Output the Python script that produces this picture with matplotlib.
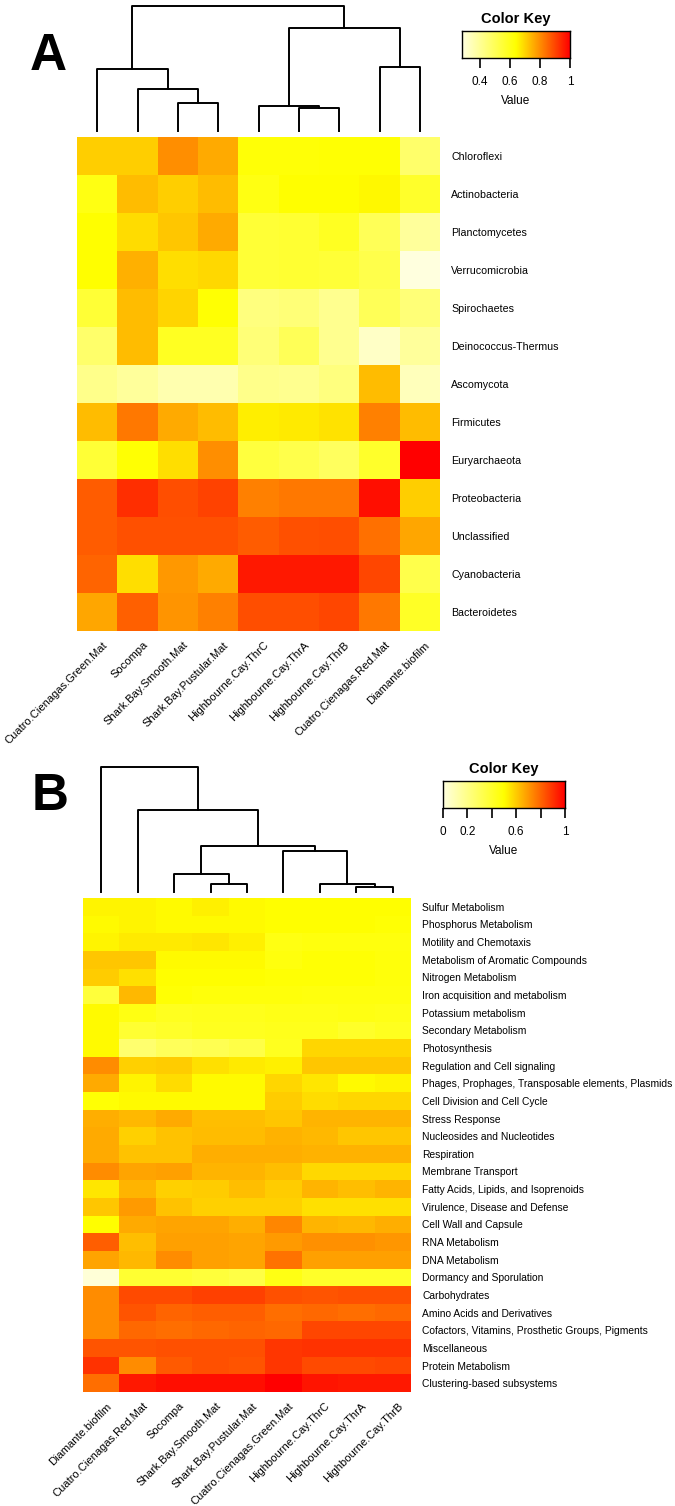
import numpy as np
import matplotlib
matplotlib.use("Agg")
import matplotlib.pyplot as plt
from matplotlib.colors import LinearSegmentedColormap
from matplotlib.transforms import offset_copy

plt.rcParams['font.family'] = ['Liberation Sans', 'DejaVu Sans']

W, H = 675, 1506

# ---------------- panel A: taxa ----------------
samples_a = ["Cuatro.Cienagas.Green.Mat", "Socompa", "Shark.Bay.Smooth.Mat",
             "Shark.Bay.Pustular.Mat", "Highbourne.Cay.ThrC", "Highbourne.Cay.ThrA",
             "Highbourne.Cay.ThrB", "Cuatro.Cienagas.Red.Mat", "Diamante.biofilm"]
taxa_a = ["Chloroflexi", "Actinobacteria", "Planctomycetes", "Verrucomicrobia",
          "Spirochaetes", "Deinococcus-Thermus", "Ascomycota", "Firmicutes",
          "Euryarchaeota", "Proteobacteria", "Unclassified", "Cyanobacteria",
          "Bacteroidetes"]
values_a = [
    [0.71, 0.71, 0.80, 0.76, 0.63, 0.63, 0.635, 0.635, 0.47],
    [0.61, 0.735, 0.71, 0.735, 0.61, 0.64, 0.64, 0.65, 0.57],
    [0.64, 0.69, 0.72, 0.76, 0.555, 0.56, 0.585, 0.50, 0.39],
    [0.64, 0.75, 0.685, 0.695, 0.555, 0.56, 0.55, 0.52, 0.285],
    [0.555, 0.735, 0.70, 0.635, 0.44, 0.45, 0.41, 0.50, 0.45],
    [0.47, 0.735, 0.585, 0.585, 0.45, 0.50, 0.41, 0.325, 0.39],
    [0.42, 0.39, 0.36, 0.36, 0.42, 0.41, 0.44, 0.735, 0.34],
    [0.735, 0.83, 0.76, 0.735, 0.665, 0.67, 0.68, 0.82, 0.735],
    [0.555, 0.635, 0.685, 0.80, 0.54, 0.52, 0.49, 0.57, 1.0],
    [0.87, 0.935, 0.89, 0.905, 0.82, 0.83, 0.83, 0.98, 0.71],
    [0.87, 0.885, 0.885, 0.885, 0.87, 0.885, 0.89, 0.84, 0.765],
    [0.857, 0.685, 0.785, 0.76, 0.965, 0.965, 0.965, 0.90, 0.52],
    [0.765, 0.864, 0.79, 0.82, 0.89, 0.89, 0.90, 0.83, 0.58],
]
# merges (left, right, height); nodes numbered after the leaves
links_a = [(5, 6, 0.184), (4, 9, 0.20), (2, 3, 0.224), (1, 11, 0.336),
           (0, 12, 0.496), (7, 8, 0.512), (10, 14, 0.824), (13, 15, 1.0)]
range_a = (0.28, 1.0)
key_ticks_a = [0.4, 0.6, 0.8, 1.0]
key_labels_a = ["0.4", "0.6", "0.8", "1"]

# ---------------- panel B: subsystems ----------------
samples_b = ["Diamante.biofilm", "Cuatro.Cienagas.Red.Mat", "Socompa",
             "Shark.Bay.Smooth.Mat", "Shark.Bay.Pustular.Mat",
             "Cuatro.Cienagas.Green.Mat", "Highbourne.Cay.ThrC",
             "Highbourne.Cay.ThrA", "Highbourne.Cay.ThrB"]
subsystems_b = ["Sulfur Metabolism", "Phosphorus Metabolism", "Motility and Chemotaxis",
                "Metabolism of Aromatic Compounds", "Nitrogen Metabolism",
                "Iron acquisition and metabolism", "Potassium metabolism",
                "Secondary Metabolism", "Photosynthesis", "Regulation and Cell signaling",
                "Phages, Prophages, Transposable elements, Plasmids",
                "Cell Division and Cell Cycle", "Stress Response",
                "Nucleosides and Nucleotides", "Respiration", "Membrane Transport",
                "Fatty Acids, Lipids, and Isoprenoids", "Virulence, Disease and Defense",
                "Cell Wall and Capsule", "RNA Metabolism", "DNA Metabolism",
                "Dormancy and Sporulation", "Carbohydrates", "Amino Acids and Derivatives",
                "Cofactors, Vitamins, Prosthetic Groups, Pigments", "Miscellaneous",
                "Protein Metabolism", "Clustering-based subsystems"]
values_b = [
    [0.52, 0.52, 0.51, 0.53, 0.51, 0.50, 0.50, 0.50, 0.50],
    [0.51, 0.52, 0.51, 0.51, 0.51, 0.50, 0.50, 0.50, 0.49],
    [0.52, 0.54, 0.54, 0.55, 0.53, 0.46, 0.47, 0.47, 0.47],
    [0.61, 0.61, 0.51, 0.51, 0.51, 0.47, 0.49, 0.49, 0.48],
    [0.60, 0.56, 0.50, 0.50, 0.50, 0.49, 0.49, 0.49, 0.48],
    [0.37, 0.64, 0.49, 0.48, 0.48, 0.48, 0.47, 0.47, 0.47],
    [0.51, 0.46, 0.43, 0.44, 0.44, 0.45, 0.45, 0.46, 0.45],
    [0.51, 0.39, 0.41, 0.43, 0.43, 0.44, 0.44, 0.41, 0.43],
    [0.51, 0.255, 0.30, 0.32, 0.34, 0.43, 0.58, 0.58, 0.58],
    [0.725, 0.59, 0.60, 0.56, 0.54, 0.53, 0.61, 0.61, 0.61],
    [0.667, 0.52, 0.57, 0.51, 0.51, 0.58, 0.55, 0.51, 0.52],
    [0.49, 0.51, 0.51, 0.51, 0.51, 0.60, 0.57, 0.58, 0.58],
    [0.657, 0.637, 0.667, 0.627, 0.627, 0.61, 0.647, 0.647, 0.647],
    [0.667, 0.59, 0.62, 0.63, 0.63, 0.65, 0.64, 0.61, 0.61],
    [0.667, 0.62, 0.62, 0.66, 0.66, 0.66, 0.65, 0.65, 0.65],
    [0.725, 0.676, 0.686, 0.647, 0.647, 0.627, 0.578, 0.578, 0.578],
    [0.55, 0.647, 0.59, 0.60, 0.627, 0.60, 0.647, 0.627, 0.647],
    [0.61, 0.696, 0.62, 0.59, 0.59, 0.59, 0.56, 0.56, 0.56],
    [0.50, 0.667, 0.676, 0.676, 0.657, 0.735, 0.647, 0.637, 0.657],
    [0.814, 0.627, 0.686, 0.686, 0.676, 0.696, 0.716, 0.716, 0.706],
    [0.676, 0.637, 0.725, 0.686, 0.676, 0.775, 0.686, 0.686, 0.686],
    [0.02, 0.39, 0.39, 0.37, 0.345, 0.455, 0.41, 0.41, 0.41],
    [0.725, 0.853, 0.853, 0.873, 0.873, 0.843, 0.833, 0.843, 0.843],
    [0.725, 0.833, 0.804, 0.814, 0.814, 0.784, 0.794, 0.784, 0.794],
    [0.725, 0.794, 0.784, 0.794, 0.804, 0.794, 0.863, 0.863, 0.863],
    [0.833, 0.833, 0.843, 0.843, 0.843, 0.892, 0.90, 0.90, 0.90],
    [0.90, 0.725, 0.824, 0.843, 0.833, 0.892, 0.853, 0.853, 0.863],
    [0.784, 0.95, 0.97, 0.97, 0.97, 1.0, 0.96, 0.95, 0.95],
]
links_b = [(7, 8, 0.04), (3, 4, 0.064), (6, 9, 0.064), (2, 10, 0.144),
           (5, 11, 0.328), (12, 13, 0.368), (1, 14, 0.656), (0, 15, 1.0)]
range_b = (0.0, 1.0)
key_ticks_b = [0.0, 0.2, 0.4, 0.6, 0.8, 1.0]
key_labels_b = ["0", "0.2", "", "0.6", "", "1"]

cmap = LinearSegmentedColormap.from_list("ly", ["#FFFFE0", "#FFFF00", "#FF0000"])


def px_axes(fig, x0, y0, x1, y1):
    return fig.add_axes([x0 / W, 1 - y1 / H, (x1 - x0) / W, (y1 - y0) / H])


def draw_dendro(ax, links, n):
    pos = {i: i + 0.5 for i in range(n)}
    hgt = {i: 0.0 for i in range(n)}
    for k, (a, b, h) in enumerate(links):
        ax.plot([pos[a], pos[a], pos[b], pos[b]], [hgt[a], h, h, hgt[b]],
                color='black', lw=1.4, clip_on=False)
        pos[n + k] = (pos[a] + pos[b]) / 2
        hgt[n + k] = h
    ax.set_xlim(0, n)
    ax.set_ylim(0, max(h for _, _, h in links))
    ax.axis('off')


def draw_heat(fig, ax, vals, rows, cols, vrange, row_fs, col_fs):
    vals = np.array(vals)
    ax.pcolormesh(np.arange(len(cols) + 1), np.arange(len(rows) + 1), vals,
                  cmap=cmap, vmin=vrange[0], vmax=vrange[1])
    ax.set_xlim(0, len(cols))
    ax.set_ylim(len(rows), 0)
    ax.set_yticks(np.arange(len(rows)) + 0.5, rows, fontsize=row_fs)
    ax.yaxis.tick_right()
    ax.tick_params(axis='y', length=0, pad=8)
    ax.set_xticks([])
    for s in ax.spines.values():
        s.set_visible(False)
    trans = offset_copy(ax.get_xaxis_transform(), fig=fig, x=5, y=-9, units='dots')
    for i, c in enumerate(cols):
        ax.text(i + 0.5, 0, c, transform=trans, rotation=45, ha='right', va='top',
                rotation_mode='anchor', fontsize=col_fs)


def draw_key(ax, vrange, ticks, labels):
    grad = np.linspace(vrange[0], vrange[1], 256).reshape(1, -1)
    ax.imshow(grad, cmap=cmap, vmin=vrange[0], vmax=vrange[1], aspect='auto',
              extent=[vrange[0], vrange[1], 0, 1])
    ax.set_yticks([])
    ax.set_xticks(ticks, labels, fontsize=8.5)
    ax.tick_params(axis='x', length=7, width=1.2, pad=6)
    ax.set_xlim(vrange)
    ax.set_title("Color Key", fontsize=10.5, fontweight='bold', pad=6)
    ax.set_xlabel("Value", fontsize=8.5, labelpad=5)
    for s in ax.spines.values():
        s.set_linewidth(1.0)


fig = plt.figure(figsize=(W / 100, H / 100), dpi=100)

# panel A
ax = px_axes(fig, 77, 6, 440, 131)
draw_dendro(ax, links_a, len(samples_a))
ax = px_axes(fig, 77, 137, 440, 631)
draw_heat(fig, ax, values_a, taxa_a, samples_a, range_a, 7.7, 8)
ax = px_axes(fig, 462, 31, 570, 58)
draw_key(ax, range_a, key_ticks_a, key_labels_a)
fig.text(48 / W, 1 - 57 / H, "A", fontsize=37, fontweight='bold', ha='center', va='center')

# panel B
ax = px_axes(fig, 83, 767, 411, 892)
draw_dendro(ax, links_b, len(samples_b))
ax = px_axes(fig, 83, 898, 411, 1392)
draw_heat(fig, ax, values_b, subsystems_b, samples_b, range_b, 7.4, 8)
ax = px_axes(fig, 443, 781, 565, 808)
draw_key(ax, range_b, key_ticks_b, key_labels_b)
fig.text(50 / W, 1 - 797 / H, "B", fontsize=37, fontweight='bold', ha='center', va='center')

fig.savefig("out.png", dpi=100)
